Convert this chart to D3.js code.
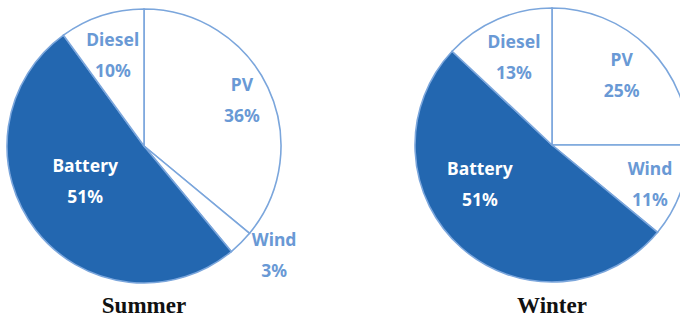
<!DOCTYPE html>
<html>
<head>
<meta charset="utf-8">
<script src="https://cdn.jsdelivr.net/npm/d3@7"></script>
<style>
  html, body { margin: 0; padding: 0; background: #fff; }
  svg { display: block; }
</style>
</head>
<body>
<svg id="chart" width="680" height="320"></svg>
<script>
// data, clockwise from 12 o'clock
const sources = ['PV', 'Wind', 'Battery', 'Diesel'];
const summerShares = [36, 3, 51, 10];
const winterShares = [25, 11, 51, 13];
const seasons = ['Summer', 'Winter'];

const svg = d3.select('#chart');
const radius = 137;
const fillColor = { PV: '#ffffff', Wind: '#ffffff', Battery: '#2367b0', Diesel: '#ffffff' };
const lineColor = '#7ba6dc';
const labelColor = '#6999d5';

// label placement: radius as fraction of pie radius, angle nudge in degrees
const labelPlacement = {
  Summer: {
    PV: [0.79, 0], Wind: [1.24, -5], Battery: [0.5, 7], Diesel: [0.7, -1],
  },
  Winter: {
    PV: [0.72, 0], Wind: [0.77, 2], Battery: [0.6, 20], Diesel: [0.7, 0],
  },
};

const pie = d3.pie().sort(null).value((d) => d.value);
const arc = d3.arc().innerRadius(0).outerRadius(radius);

const drawPie = (season, shares, cx, cy) => {
  const data = sources.map((s, i) => ({ name: s, value: shares[i] }));
  const arcs = pie(data);
  const g = svg.append('g').attr('transform', `translate(${cx},${cy})`);

  g.selectAll('path')
    .data(arcs)
    .enter()
    .append('path')
    .attr('d', arc)
    .attr('fill', (d) => fillColor[d.data.name])
    .attr('stroke', lineColor)
    .attr('stroke-width', 1.6);

  arcs.forEach((d) => {
    const [frac, nudge] = labelPlacement[season][d.data.name];
    const a = (d.startAngle + d.endAngle) / 2 + (nudge * Math.PI) / 180;
    const x = Math.sin(a) * radius * frac;
    const y = -Math.cos(a) * radius * frac;
    const color = d.data.name === 'Battery' ? '#ffffff' : labelColor;
    const t = g.append('text')
      .attr('text-anchor', 'middle')
      .attr('font-family', '"Noto Sans", sans-serif')
      .attr('font-weight', 'bold')
      .attr('font-size', '17.5px')
      .attr('fill', color);
    t.append('tspan').attr('x', x).attr('y', y - 9).text(d.data.name);
    t.append('tspan').attr('x', x).attr('y', y + 22).text(`${d.data.value}%`);
  });

  svg.append('text')
    .attr('x', cx)
    .attr('y', 313)
    .attr('text-anchor', 'middle')
    .attr('font-family', '"Liberation Serif", "Times New Roman", serif')
    .attr('font-weight', 'bold')
    .attr('font-size', '23px')
    .attr('fill', '#111')
    .text(season);
};

drawPie(seasons[0], summerShares, 144, 146);
drawPie(seasons[1], winterShares, 552, 145);
</script>
</body>
</html>
